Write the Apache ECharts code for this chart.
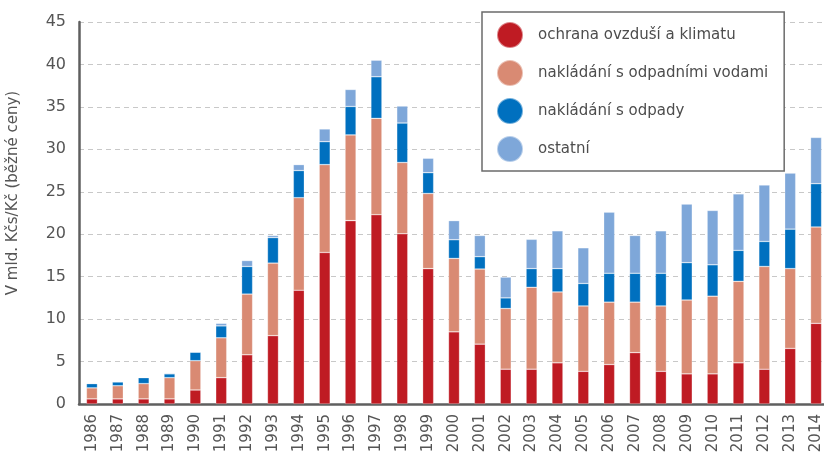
<!DOCTYPE html>
<html>
<head>
<meta charset="utf-8">
<script src="https://cdn.jsdelivr.net/npm/echarts@6/dist/echarts.min.js"></script>
<style>
  html, body { margin: 0; padding: 0; background: #fff; }
  #chart { width: 824px; height: 457px; }
</style>
</head>
<body>
<div id="chart"></div>
<script>
const years = ['1986', '1987', '1988', '1989', '1990', '1991', '1992', '1993', '1994', '1995',
  '1996', '1997', '1998', '1999', '2000', '2001', '2002', '2003', '2004', '2005',
  '2006', '2007', '2008', '2009', '2010', '2011', '2012', '2013', '2014']

// ochrana ovzduší a klimatu
const ovzdusi = [0.6, 0.6, 0.6, 0.6, 1.65, 3.1, 5.8, 8.05, 13.4, 17.85,
  21.6, 22.3, 20.05, 15.95, 8.5, 7.05, 4.1, 4.1, 4.85, 3.85,
  4.65, 6.05, 3.85, 3.55, 3.55, 4.85, 4.1, 6.55, 9.5]

// nakládání s odpadními vodami
const vody = [1.3, 1.55, 1.8, 2.5, 3.45, 4.7, 7.15, 8.55, 10.9, 10.35,
  10.1, 11.35, 8.4, 8.85, 8.65, 8.85, 7.15, 9.65, 8.35, 7.7,
  7.35, 5.95, 7.7, 8.7, 9.15, 9.6, 12.1, 9.4, 11.35]

// nakládání s odpady
const odpady = [0.5, 0.45, 0.7, 0.45, 1.0, 1.4, 3.25, 3.0, 3.2, 2.7,
  3.35, 4.9, 4.65, 2.45, 2.2, 1.45, 1.25, 2.2, 2.75, 2.65,
  3.4, 3.4, 3.85, 4.4, 3.7, 3.65, 2.95, 4.65, 5.1]

// ostatní
const ostatni = [0.05, 0.05, 0.05, 0.1, 0.05, 0.3, 0.7, 0.25, 0.7, 1.5,
  2.0, 1.95, 2.0, 1.7, 2.25, 2.5, 2.45, 3.45, 4.45, 4.2,
  7.2, 4.45, 5.0, 6.9, 6.4, 6.65, 6.65, 6.6, 5.45]

const seriesNames = ['ochrana ovzduší a klimatu', 'nakládání s odpadními vodami', 'nakládání s odpady', 'ostatní']
const seriesColors = ['#bf1b23', '#d98a73', '#0070bf', '#7ea7d9']

const fontFamily = 'DejaVu Sans'
const textColor = '#555555'

const chart = echarts.init(document.getElementById('chart'))

function barSeries(name, data, color) {
  return {
    name: name,
    type: 'bar',
    stack: 'total',
    barWidth: 11,
    itemStyle: {
      color: color,
      borderColor: 'rgba(255, 255, 255, 0.45)',
      borderWidth: 0.6
    },
    data: data
  }
}

chart.setOption({
  animation: false,
  textStyle: { fontFamily: fontFamily },
  grid: {
    left: 79,
    right: -5,
    top: 22,
    bottom: 53,
    outerBoundsMode: 'none'
  },
  legend: {
    orient: 'vertical',
    left: 482,
    top: 12,
    padding: [9, 16, 8, 14],
    itemWidth: 26,
    itemHeight: 26,
    itemGap: 10,
    icon: 'circle',
    borderColor: '#6b6b6b',
    borderWidth: 1.5,
    backgroundColor: '#ffffff',
    textStyle: {
      color: '#4d4d4d',
      fontSize: 15,
      padding: [0, 0, 0, 10]
    },
    data: seriesNames
  },
  xAxis: {
    type: 'category',
    data: years,
    axisLine: { lineStyle: { color: '#5f5f5f', width: 2.5 } },
    axisTick: { show: false },
    axisLabel: {
      rotate: 90,
      interval: 0,
      margin: 10,
      color: textColor,
      fontSize: 15
    }
  },
  yAxis: {
    type: 'value',
    min: 0,
    max: 45,
    interval: 5,
    name: 'V mld. Kčs/Kč (běžné ceny)',
    nameLocation: 'middle',
    nameGap: 58,
    nameTextStyle: {
      color: textColor,
      fontSize: 15,
      padding: [0, 0, 0, 40]
    },
    axisLine: { show: true, lineStyle: { color: '#5f5f5f', width: 2.5 } },
    axisTick: { show: false },
    axisLabel: {
      margin: 13,
      color: textColor,
      fontSize: 16
    },
    splitLine: {
      lineStyle: { color: '#c8c8c8', type: [5, 4], width: 1 }
    }
  },
  series: [
    barSeries(seriesNames[0], ovzdusi, seriesColors[0]),
    barSeries(seriesNames[1], vody, seriesColors[1]),
    barSeries(seriesNames[2], odpady, seriesColors[2]),
    barSeries(seriesNames[3], ostatni, seriesColors[3])
  ]
})
</script>
</body>
</html>
